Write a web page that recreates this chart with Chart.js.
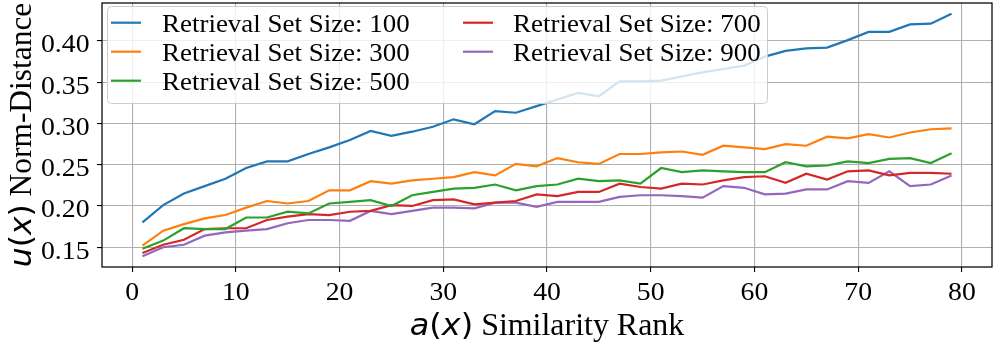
<!DOCTYPE html>
<html><head><meta charset="utf-8">
<script src="https://cdn.jsdelivr.net/npm/chart.js@4/dist/chart.umd.min.js"></script>
<style>html,body{margin:0;padding:0;background:#fff;overflow:hidden}</style>
</head><body>
<canvas id="c" width="996" height="345"></canvas>
<script>
const rank = [1,3,5,7,9,11,13,15,17,19,21,23,25,27,29,31,33,35,37,39,41,43,45,47,49,51,53,55,57,59,61,63,65,67,69,71,73,75,77,79];
const size100 = [0.180,0.201,0.215,0.224,0.233,0.246,0.254,0.254,0.263,0.271,0.280,0.291,0.285,0.290,0.296,0.305,0.299,0.315,0.313,0.321,0.329,0.337,0.333,0.351,0.351,0.352,0.357,0.362,0.366,0.370,0.381,0.388,0.391,0.392,0.401,0.411,0.411,0.420,0.421,0.433];
const size300 = [0.152,0.170,0.178,0.185,0.189,0.198,0.206,0.203,0.206,0.219,0.219,0.230,0.227,0.231,0.233,0.235,0.241,0.237,0.251,0.248,0.258,0.253,0.251,0.263,0.263,0.265,0.266,0.262,0.273,0.271,0.269,0.275,0.273,0.284,0.282,0.287,0.283,0.289,0.293,0.294];
const size500 = [0.148,0.158,0.173,0.172,0.172,0.186,0.186,0.193,0.191,0.203,0.205,0.207,0.200,0.213,0.217,0.221,0.222,0.226,0.219,0.224,0.226,0.233,0.230,0.231,0.227,0.246,0.241,0.243,0.242,0.241,0.241,0.253,0.248,0.249,0.254,0.252,0.257,0.258,0.252,0.264];
const size700 = [0.143,0.153,0.159,0.172,0.173,0.173,0.183,0.187,0.190,0.189,0.193,0.194,0.201,0.200,0.207,0.208,0.202,0.204,0.206,0.214,0.212,0.217,0.217,0.227,0.223,0.221,0.227,0.226,0.231,0.235,0.236,0.228,0.239,0.232,0.242,0.243,0.237,0.240,0.240,0.239];
const size900 = [0.139,0.150,0.153,0.164,0.168,0.170,0.172,0.179,0.183,0.183,0.182,0.194,0.190,0.194,0.198,0.198,0.197,0.204,0.204,0.199,0.205,0.205,0.205,0.211,0.213,0.213,0.212,0.210,0.224,0.222,0.214,0.215,0.220,0.220,0.230,0.228,0.242,0.224,0.226,0.237];
const seriesLabels = ['Retrieval Set Size: 100','Retrieval Set Size: 300','Retrieval Set Size: 500','Retrieval Set Size: 700','Retrieval Set Size: 900'];
const xTicks = [0,10,20,30,40,50,60,70,80];
const yTicks = [0.15,0.20,0.25,0.30,0.35,0.40];
const xTitle = ['a(x)', ' Similarity Rank'];
const yTitle = ['u(x)', ' Norm-Distance'];

const colors = ['#1f77b4','#ff7f0e','#2ca02c','#d62728','#9467bd'];
const seriesValues = [size100, size300, size500, size700, size900];
const SERIF = '"Liberation Serif", "Times New Roman", serif';
const MATH = '"DejaVu Sans", sans-serif';
const TICK_SX = 1.11, LEG_SX = 1.1, TITLE_SX = 1.03;

const datasets = seriesValues.map((vals, i) => ({
  label: seriesLabels[i],
  data: rank.map((r, j) => ({x: r, y: vals[j]})),
  borderColor: colors[i],
  backgroundColor: colors[i],
  borderWidth: 2.2,
  pointRadius: 0,
  tension: 0,
  fill: false
}));

function stretchText(ctx, text, x, y, align, sx) {
  const w = ctx.measureText(text).width * sx;
  const left = align === 'center' ? x - w / 2 : align === 'right' ? x - w : x;
  ctx.save();
  ctx.translate(left, y);
  ctx.scale(sx, 1);
  ctx.textAlign = 'left';
  ctx.fillText(text, 0, 0);
  ctx.restore();
  return w;
}
function mathWidth(ctx, text, size) {
  let w = 0;
  for (const ch of text) {
    ctx.font = (/[a-z]/.test(ch) ? 'italic ' : '') + size + 'px ' + MATH;
    w += ctx.measureText(ch).width;
  }
  return w;
}
function drawMath(ctx, text, x, y, size) {
  let cx = x;
  for (const ch of text) {
    ctx.font = (/[a-z]/.test(ch) ? 'italic ' : '') + size + 'px ' + MATH;
    ctx.fillText(ch, cx, y);
    cx += ctx.measureText(ch).width;
  }
}
function drawTitle(ctx, parts, size) {
  const w1 = mathWidth(ctx, parts[0], size);
  ctx.font = size + 'px ' + SERIF;
  const w2 = ctx.measureText(parts[1]).width;
  ctx.save();
  ctx.scale(TITLE_SX, 1);
  const start = -(w1 + w2) / 2;
  drawMath(ctx, parts[0], start, 0, size);
  ctx.font = size + 'px ' + SERIF;
  ctx.fillText(parts[1], start + w1, 0);
  ctx.restore();
}

const framePlugin = {
  id: 'frameAndTitles',
  afterDatasetsDraw(chart) {
    const ctx = chart.ctx;
    ctx.save();
    const lx = 107.5, ly = 6.5, lw = 660, lh = 97, rr = 4;
    ctx.beginPath();
    ctx.moveTo(lx + rr, ly);
    ctx.lineTo(lx + lw - rr, ly); ctx.quadraticCurveTo(lx + lw, ly, lx + lw, ly + rr);
    ctx.lineTo(lx + lw, ly + lh - rr); ctx.quadraticCurveTo(lx + lw, ly + lh, lx + lw - rr, ly + lh);
    ctx.lineTo(lx + rr, ly + lh); ctx.quadraticCurveTo(lx, ly + lh, lx, ly + lh - rr);
    ctx.lineTo(lx, ly + rr); ctx.quadraticCurveTo(lx, ly, lx + rr, ly);
    ctx.closePath();
    ctx.fillStyle = 'rgba(255,255,255,0.8)';
    ctx.fill();
    ctx.strokeStyle = '#cccccc';
    ctx.lineWidth = 1;
    ctx.stroke();
    const cols = [{h: 111, t: 162}, {h: 463, t: 513}];
    const rows = [22.7, 51.7, 80.7];
    chart.data.datasets.forEach((ds, i) => {
      const col = cols[i < 3 ? 0 : 1];
      const ry = rows[i < 3 ? i : i - 3];
      ctx.strokeStyle = ds.borderColor;
      ctx.lineWidth = 2.2;
      ctx.beginPath();
      ctx.moveTo(col.h, ry); ctx.lineTo(col.h + 30, ry);
      ctx.stroke();
      ctx.fillStyle = '#000';
      ctx.font = '24.5px ' + SERIF;
      ctx.textBaseline = 'alphabetic';
      stretchText(ctx, ds.label, col.t, ry + 9, 'left', LEG_SX);
    });
    ctx.restore();
  },
  afterDraw(chart) {
    const ctx = chart.ctx;
    const a = chart.chartArea;
    const xs = chart.scales.x, ys = chart.scales.y;
    ctx.save();
    ctx.strokeStyle = '#000';
    ctx.lineWidth = 1.25;
    ctx.strokeRect(a.left, a.top, a.right - a.left, a.bottom - a.top);
    ctx.fillStyle = '#000';
    // tick labels
    ctx.font = '25px ' + SERIF;
    ctx.textBaseline = 'alphabetic';
    xTicks.forEach(v => {
      stretchText(ctx, String(v), xs.getPixelForValue(v), a.bottom + 32.5, 'center', TICK_SX);
    });
    yTicks.forEach(v => {
      stretchText(ctx, v.toFixed(2), a.left - 12.5, ys.getPixelForValue(v) + 11.5, 'right', TICK_SX);
    });
    // titles
    ctx.textBaseline = 'middle';
    ctx.textAlign = 'left';
    ctx.save();
    ctx.translate((a.left + a.right) / 2, 327);
    drawTitle(ctx, xTitle, 31);
    ctx.restore();
    ctx.save();
    ctx.translate(23, (a.top + a.bottom) / 2);
    ctx.rotate(-Math.PI / 2);
    drawTitle(ctx, yTitle, 30.5);
    ctx.restore();
    ctx.restore();
  }
};

new Chart(document.getElementById('c'), {
  type: 'line',
  data: { datasets },
  options: {
    responsive: false,
    animation: false,
    devicePixelRatio: 1,
    layout: { padding: { left: 0, right: 4, top: 3, bottom: 0 } },
    plugins: { legend: { display: false }, tooltip: { enabled: false } },
    scales: {
      x: {
        type: 'linear',
        min: -2.9, max: 82.9,
        afterBuildTicks: (s) => { s.ticks = xTicks.map(v => ({ value: v })); },
        afterFit: (s) => { s.height = 78; s.paddingLeft = 0; s.paddingRight = 0; },
        ticks: { display: false, autoSkip: false },
        grid: { color: '#b0b0b0', lineWidth: 1.1, tickColor: '#000', tickLength: 5, drawTicks: true },
        border: { display: false }
      },
      y: {
        type: 'linear',
        min: 0.126, max: 0.446,
        afterBuildTicks: (s) => { s.ticks = yTicks.map(v => ({ value: v })); },
        afterFit: (s) => { s.width = 102; s.paddingTop = 0; s.paddingBottom = 0; },
        ticks: { display: false, autoSkip: false },
        grid: { color: '#b0b0b0', lineWidth: 1.1, tickColor: '#000', tickLength: 5, drawTicks: true },
        border: { display: false }
      }
    }
  },
  plugins: [framePlugin]
});
</script>
</body></html>
